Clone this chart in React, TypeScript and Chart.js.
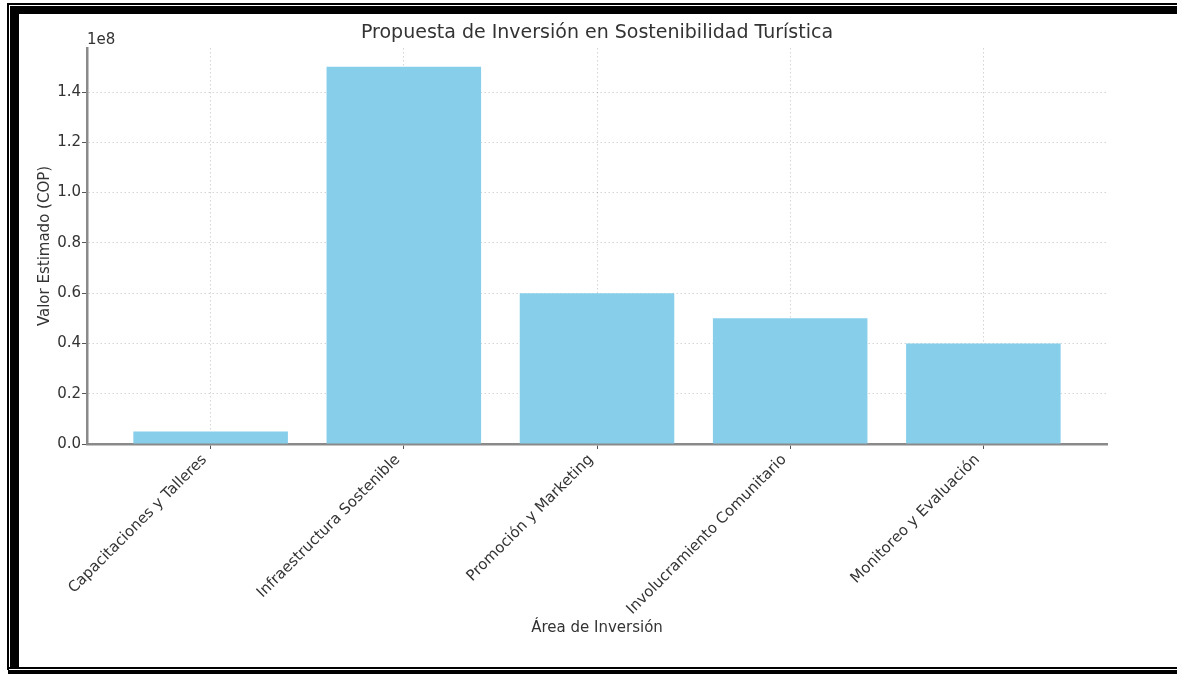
import React, { useEffect, useRef } from "react";
import { Chart, registerables } from "chart.js";

Chart.register(...registerables);

const categories = [
  "Capacitaciones y Talleres",
  "Infraestructura Sostenible",
  "Promoción y Marketing",
  "Involucramiento Comunitario",
  "Monitoreo y Evaluación",
];
const values = [5000000, 150000000, 60000000, 50000000, 40000000];
const yTickValues = [0, 20000000, 40000000, 60000000, 80000000, 100000000, 120000000, 140000000];
const chartTitle = "Propuesta de Inversión en Sostenibilidad Turística";
const xTitle = "Área de Inversión";
const yTitle = "Valor Estimado (COP)";
const offsetText = "1e8";

const W = 1177;
const H = 674;
const FONT = "'DejaVu Sans', sans-serif";
const TEXT = "#333333";

const textPlugin = {
  id: "mplText",
  afterDraw(chart: any) {
    const { ctx, chartArea } = chart;
    const cx = (chartArea.left + chartArea.right) / 2;
    const cy = (chartArea.top + chartArea.bottom) / 2;
    ctx.save();
    ctx.fillStyle = TEXT;
    ctx.font = `19px ${FONT}`;
    ctx.textAlign = "center";
    ctx.textBaseline = "middle";
    ctx.fillText(chartTitle, cx, 33);
    ctx.font = `15px ${FONT}`;
    ctx.fillText(xTitle, cx, 628);
    ctx.textAlign = "left";
    ctx.textBaseline = "alphabetic";
    ctx.fillText(offsetText, chartArea.left, 44);
    ctx.translate(45, cy);
    ctx.rotate(-Math.PI / 2);
    ctx.textAlign = "center";
    ctx.textBaseline = "middle";
    ctx.fillText(yTitle, 0, 0);
    ctx.restore();
  },
};

export default function App() {
  const ref = useRef<HTMLCanvasElement>(null);
  useEffect(() => {
    if (!ref.current) return;
    const chart = new Chart(ref.current, {
      type: "bar",
      data: {
        datasets: [
          {
            data: categories.map((_, i) => ({ x: i, y: values[i] })) as any,
            backgroundColor: "#87CEEB",
            borderWidth: 0,
            barPercentage: 0.8,
            categoryPercentage: 1,
          },
        ],
      },
      options: {
        animation: false,
        responsive: false,
        layout: { padding: { left: 0, top: 48, right: 70, bottom: 0 } },
        plugins: {
          legend: { display: false },
          title: { display: false },
          tooltip: { enabled: false },
        },
        scales: {
          x: {
            type: "linear",
            min: -0.64,
            max: 4.64,
            offset: false,
            z: 1,
            afterBuildTicks: (axis: any) => {
              axis.ticks = categories.map((_, i) => ({ value: i }));
            },
            afterFit: (axis: any) => {
              axis.height = 230;
            },
            ticks: {
              autoSkip: false,
              minRotation: 45,
              maxRotation: 45,
              padding: 2,
              labelOffset: -6,
              color: TEXT,
              font: { family: FONT, size: 15 },
              callback: (v: any) => categories[v as number],
            },
            grid: {
              offset: false,
              color: "rgba(0,0,0,0.17)",
              lineWidth: 1,
              tickLength: 5,
              tickColor: "#555",
            } as any,
            border: { display: true, color: "#8a8a8a", width: 2.5, dash: [1.5, 2.5] } as any,
          },
          y: {
            type: "linear",
            min: 0,
            max: 157500000,
            z: 1,
            afterBuildTicks: (axis: any) => {
              axis.ticks = yTickValues.map((v) => ({ value: v }));
            },
            afterFit: (axis: any) => {
              axis.width = 87;
            },
            ticks: {
              padding: 1,
              color: TEXT,
              font: { family: FONT, size: 15 },
              callback: (v: any) => ((v as number) / 1e8).toFixed(1),
            },
            grid: {
              color: "rgba(0,0,0,0.17)",
              lineWidth: 1,
              tickLength: 5,
              tickColor: "#555",
            },
            border: { display: true, color: "#8a8a8a", width: 2.5, dash: [1.5, 2.5] } as any,
          },
        },
      },
      plugins: [textPlugin],
    });
    return () => chart.destroy();
  }, []);

  const box = (l: number, t: number, w: number, h: number) => (
    <div
      style={{
        position: "absolute",
        left: l,
        top: t,
        width: w,
        height: h,
        background: "#000",
      }}
    />
  );

  return (
    <div
      style={{
        position: "fixed",
        left: 0,
        top: 0,
        width: W,
        height: H,
        background: "#fff",
        overflow: "hidden",
      }}
    >
      <canvas
        ref={ref}
        width={W}
        height={H}
        style={{ position: "absolute", left: 0, top: 0, width: W, height: H }}
      />
      {box(7, 3, W - 7, 2)}
      {box(7, 3, 2, 667)}
      {box(10, 6, W - 10, 8)}
      {box(10, 6, 9, 661)}
      {box(8, 667, W - 8, 2)}
      {box(8, 670, W - 8, 4)}
    </div>
  );
}
